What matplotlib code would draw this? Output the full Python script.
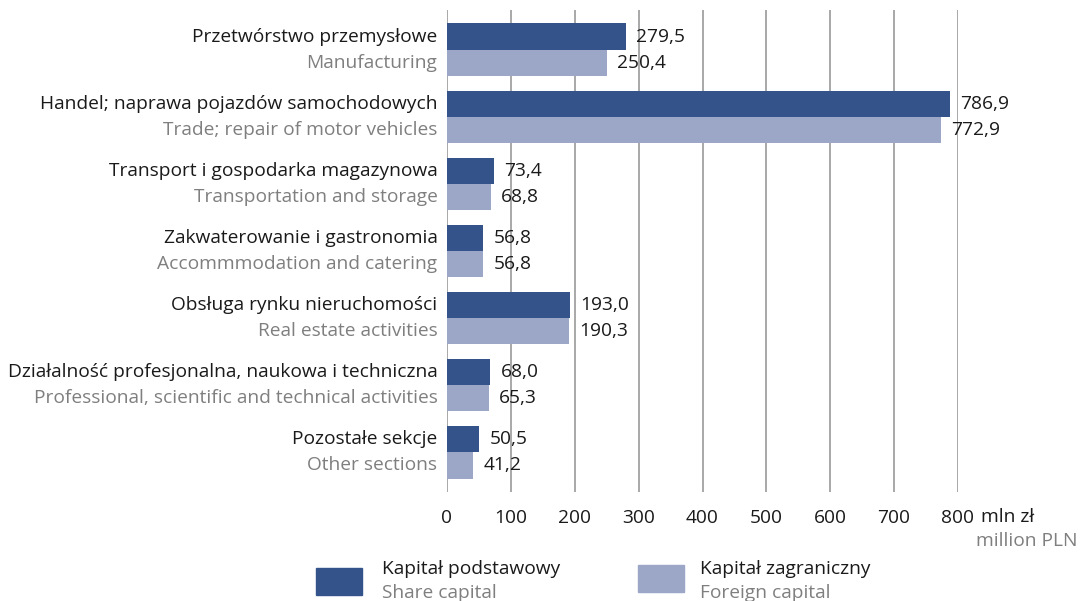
import matplotlib
matplotlib.use("Agg")
import matplotlib.pyplot as plt
from matplotlib.patches import Rectangle

plt.rcParams['font.family'] = ['Open Sans', 'DejaVu Sans']

categories_pl = ["Przetwórstwo przemysłowe",
                 "Handel; naprawa pojazdów samochodowych",
                 "Transport i gospodarka magazynowa",
                 "Zakwaterowanie i gastronomia",
                 "Obsługa rynku nieruchomości",
                 "Działalność profesjonalna, naukowa i techniczna",
                 "Pozostałe sekcje"]
categories_en = ["Manufacturing",
                 "Trade; repair of motor vehicles",
                 "Transportation and storage",
                 "Accommmodation and catering",
                 "Real estate activities",
                 "Professional, scientific and technical activities",
                 "Other sections"]
share_capital = [279.5, 786.9, 73.4, 56.8, 193.0, 68.0, 50.5]
foreign_capital = [250.4, 772.9, 68.8, 56.8, 190.3, 65.3, 41.2]
xticks = [0, 100, 200, 300, 400, 500, 600, 700, 800]

DARK = "#34538b"
LIGHT = "#9ca6c7"
GRAY = "#7f7f7f"
TXT = "#1a1a1a"
FS = 13.8

W, H = 1081, 601
fig = plt.figure(figsize=(W / 100, H / 100), dpi=100)
ax = fig.add_axes([447 / W, 1 - 492 / H, 511 / W, 482 / H])
ax.set_xlim(0, 800)
ax.set_ylim(6.59, -0.59)

h = 0.39
ys = list(range(len(share_capital)))
ax.barh([y - h / 2 for y in ys], share_capital, height=h, color=DARK, zorder=3)
ax.barh([y + h / 2 for y in ys], foreign_capital, height=h, color=LIGHT, zorder=3)

for y, v1, v2 in zip(ys, share_capital, foreign_capital):
    ax.text(v1 + 16, y - h / 2, f"{v1:.1f}".replace(".", ","), va="center", ha="left", fontsize=FS, color=TXT)
    ax.text(v2 + 16, y + h / 2, f"{v2:.1f}".replace(".", ","), va="center", ha="left", fontsize=FS, color=TXT)

for y, pl, en in zip(ys, categories_pl, categories_en):
    ax.text(-15, y - h / 2, pl, va="center", ha="right", fontsize=FS, color=TXT)
    ax.text(-15, y + h / 2, en, va="center", ha="right", fontsize=FS, color=GRAY)

for s in ax.spines.values():
    s.set_visible(False)
ax.set_yticks([])
ax.set_xticks(xticks)
ax.set_xticklabels([str(t) for t in xticks], fontsize=FS, color=TXT)
ax.tick_params(axis="x", length=0, pad=12)
for t in xticks:
    ax.axvline(t, color="#9a9a9a", lw=1.2, zorder=1)

fig.text(981 / W, 1 - 517 / H, "mln zł", fontsize=FS, color=TXT, va="center", ha="left")
fig.text(1078 / W, 1 - 541 / H, "million PLN", fontsize=FS, color=GRAY, va="center", ha="right")

# legend
fig.patches.append(Rectangle((316 / W, 1 - 595 / H), 46 / W, 27 / H, transform=fig.transFigure, color=DARK))
fig.text(382 / W, 1 - 569 / H, "Kapitał podstawowy", fontsize=FS, color=TXT, va="center", ha="left")
fig.text(382 / W, 1 - 593 / H, "Share capital", fontsize=FS, color=GRAY, va="center", ha="left")
fig.patches.append(Rectangle((638 / W, 1 - 592 / H), 46 / W, 27 / H, transform=fig.transFigure, color=LIGHT))
fig.text(700 / W, 1 - 569 / H, "Kapitał zagraniczny", fontsize=FS, color=TXT, va="center", ha="left")
fig.text(700 / W, 1 - 593 / H, "Foreign capital", fontsize=FS, color=GRAY, va="center", ha="left")

fig.savefig("out.png", dpi=100)
